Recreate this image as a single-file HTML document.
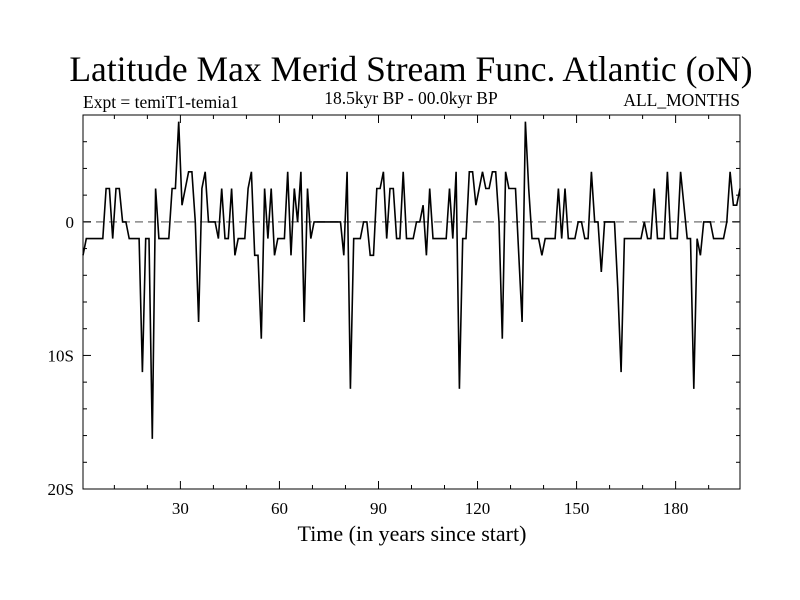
<!DOCTYPE html>
<html><head><meta charset="utf-8"><style>
body{margin:0;background:#fff;}
svg{display:block;font-family:"Liberation Serif",serif;}
</style></head><body>
<svg id="chart" width="800" height="600">
<text x="411" y="81" font-size="35.5" text-anchor="middle">Latitude Max Merid Stream Func. Atlantic (oN)</text>
<text x="83" y="108" font-size="17.5">Expt = temiT1-temia1</text>
<text x="411" y="104" font-size="17.5" text-anchor="middle">18.5kyr BP - 00.0kyr BP</text>
<text x="740" y="106" font-size="17.5" text-anchor="end">ALL_MONTHS</text>
<text x="412" y="541" font-size="22" text-anchor="middle">Time (in years since start)</text>
<g id="axes"></g>
<g id="series"></g>
</svg>
<script>
const years = Array.from({length:200},(_, i)=>i+0.5);
const values = [
-2.5,-1.25,-1.25,-1.25,-1.25,-1.25,-1.25,2.5,2.5,-1.25,
2.5,2.5,0,0,-1.25,-1.25,-1.25,-1.25,-11.25,-1.25,
-1.25,-16.25,2.5,-1.25,-1.25,-1.25,-1.25,2.5,2.5,7.5,
1.25,2.5,3.75,3.75,0,-7.5,2.5,3.75,0,0,
0,-1.25,2.5,-1.25,-1.25,2.5,-2.5,-1.25,-1.25,-1.25,
2.5,3.75,-2.5,-2.5,-8.75,2.5,-1.25,2.5,-2.5,-1.25,
-1.25,-1.25,3.75,-2.5,2.5,0,3.75,-7.5,2.5,-1.25,
0,0,0,0,0,0,0,0,0,-2.5,
3.75,-12.5,-1.25,-1.25,-1.25,0,0,-2.5,-2.5,2.5,
2.5,3.75,-1.25,2.5,2.5,-1.25,-1.25,3.75,-1.25,-1.25,
-1.25,0,0,1.25,-2.5,2.5,-1.25,-1.25,-1.25,-1.25,
-1.25,2.5,-1.25,3.75,-12.5,-1.25,-1.25,3.75,3.75,1.25,
2.5,3.75,2.5,2.5,3.75,3.75,0,-8.75,3.75,2.5,
2.5,2.5,-2.5,-7.5,7.5,2.5,-1.25,-1.25,-1.25,-2.5,
-1.25,-1.25,-1.25,-1.25,2.5,-1.25,2.5,-1.25,-1.25,-1.25,
0,0,-1.25,-1.25,3.75,0,0,-3.75,0,0,
0,0,-5,-11.25,-1.25,-1.25,-1.25,-1.25,-1.25,-1.25,
0,-1.25,-1.25,2.5,-1.25,-1.25,-1.25,3.75,-1.25,-1.25,
-1.25,3.75,1.25,-1.25,-1.25,-12.5,-1.25,-2.5,0,0,
0,-1.25,-1.25,-1.25,-1.25,0,3.75,1.25,1.25,2.5];
const xTicks = [30,60,90,120,150,180];
const yTicks = [0,-10,-20];
const yTickLabels = ["0","10S","20S"];

const NS="http://www.w3.org/2000/svg";
const L=83,R=740,T=115,B=489;
const X0=0.5,X1=199.5,Y0=-20,Y1=8;
function sx(v){return L+(v-X0)/(X1-X0)*(R-L);}
function sy(v){return B-(v-Y0)/(Y1-Y0)*(B-T);}
function mk(tag,attrs,parent){const e=document.createElementNS(NS,tag);for(const k in attrs)e.setAttribute(k,attrs[k]);parent.appendChild(e);return e;}
const axes=document.getElementById('axes');
const frame=mk('rect',{x:L,y:T,width:R-L,height:B-T,fill:'none',stroke:'#000','stroke-width':1},axes);


const zl=mk('line',{x1:L,x2:R,y1:sy(0),y2:sy(0),stroke:'#888','stroke-width':1.5,'stroke-dasharray':'8,5'},axes);


for(let v=10;v<200;v+=10){
  const major=v%30===0, len=major?8:4;
  const t1=mk('line',{x1:sx(v),x2:sx(v),y1:B,y2:B-len,stroke:'#000'},axes);
  
  
  const t2=mk('line',{x1:sx(v),x2:sx(v),y1:T,y2:T+len,stroke:'#000'},axes);
  
  
}
xTicks.forEach(v=>{
  const t=mk('text',{x:sx(v),y:B+25,'font-size':17,'text-anchor':'middle'},axes);
  t.textContent=v;
  
  
});
for(let v=-20;v<=8;v+=2){
  const major=v%10===0, len=major?8:4;
  const a=mk('line',{x1:L,x2:L+len,y1:sy(v),y2:sy(v),stroke:'#000'},axes);
  
  
  const b=mk('line',{x1:R,x2:R-len,y1:sy(v),y2:sy(v),stroke:'#000'},axes);
  
  
}
yTicks.forEach((v,i)=>{
  const t=mk('text',{x:L-9,y:sy(v)+6,'font-size':17,'text-anchor':'end'},axes);
  t.textContent=yTickLabels[i];
  
  
});
const pts=years.map((y,i)=>sx(y).toFixed(1)+','+sy(values[i]).toFixed(1)).join(' ');
const line=mk('polyline',{points:pts,fill:'none',stroke:'#000','stroke-width':1.6,'stroke-linejoin':'miter'},document.getElementById('series'));


</script>
</body></html>
